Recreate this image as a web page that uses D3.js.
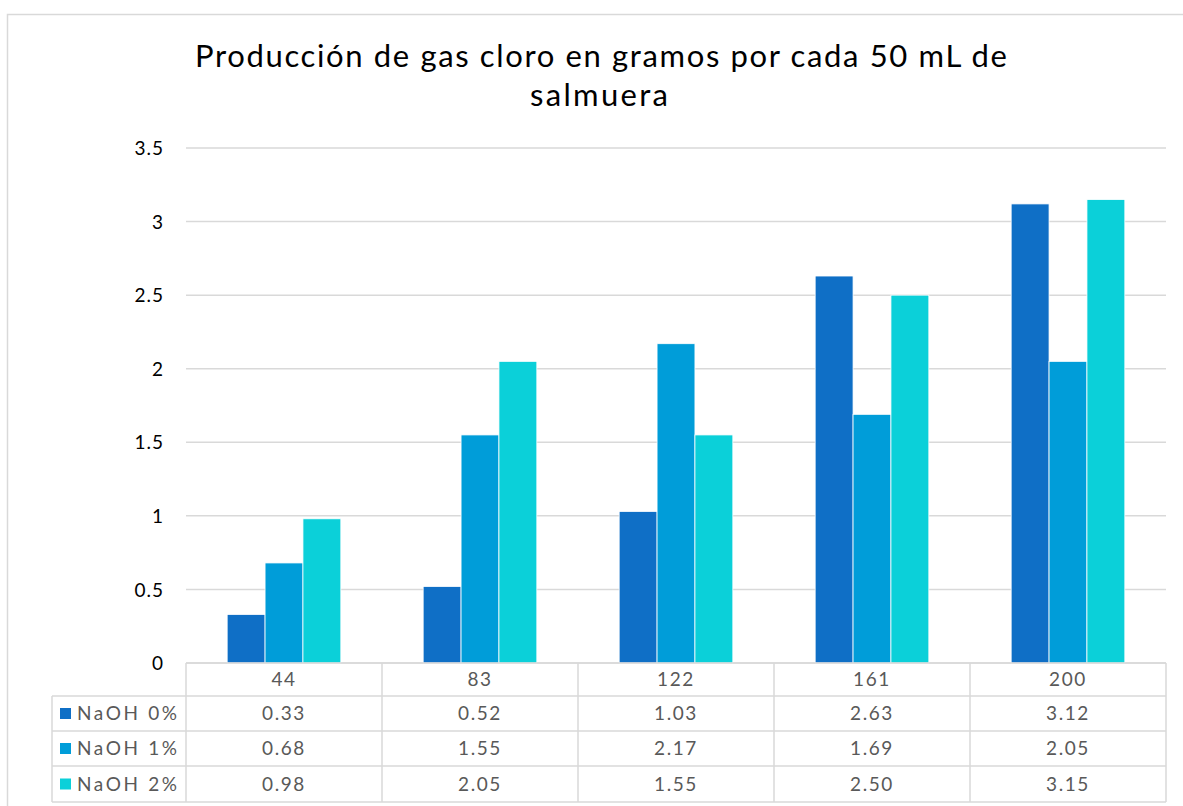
<!DOCTYPE html>
<html><head><meta charset="utf-8">
<script src="https://cdn.jsdelivr.net/npm/d3@7"></script>
<style>body{margin:0;background:#fff}svg{display:block}</style>
</head><body><svg id="c" width="1183" height="806"></svg>
<script>
const categories = ["44","83","122","161","200"];
const seriesNames = ["NaOH 0%","NaOH 1%","NaOH 2%"];
const naoh0 = [0.33,0.52,1.03,2.63,3.12];
const naoh1 = [0.68,1.55,2.17,1.69,2.05];
const naoh2 = [0.98,2.05,1.55,2.50,3.15];
const yTicks = [0,0.5,1,1.5,2,2.5,3,3.5];
const colors = ["#0F6FC6","#009DD9","#0BD0D9"];
const series = [naoh0,naoh1,naoh2];
const titleLines = ["Producción de gas cloro en gramos por cada 50 mL de","salmuera"];
const font = "Lato, 'Noto Sans', sans-serif";

const svg = d3.select("#c");
svg.append("rect").attr("x",7.5).attr("y",14.5).attr("width",1200).attr("height",900)
  .attr("fill","#fff").attr("stroke","#d9d9d9").attr("stroke-width",1.5);

// stretch text to a target width with letter spacing
function fit(sel, target){
  const n = sel.text().length;
  const w = sel.node().getComputedTextLength();
  if (n>1) sel.attr("letter-spacing", ((target-w)/(n-1)).toFixed(2)+"px");
}

const t1 = svg.append("text").attr("x",195).attr("y",67)
  .attr("font-family",font).attr("font-size",31).attr("fill","#000").text(titleLines[0]);
fit(t1, 812);
const t2 = svg.append("text").attr("x",530).attr("y",106)
  .attr("font-family",font).attr("font-size",31).attr("fill","#000").text(titleLines[1]);
fit(t2, 138);

const L=186, R=1166, T=148, B=663;
const x = d3.scaleBand().domain(categories).range([L,R]).paddingInner(0).paddingOuter(0);
const y = d3.scaleLinear().domain([0,3.5]).range([B,T]);

// gridlines
svg.append("g").selectAll("line").data(yTicks).join("line")
  .attr("x1",L).attr("x2",R).attr("y1",d=>y(d)).attr("y2",d=>y(d))
  .attr("stroke","#d9d9d9").attr("stroke-width",1.5);

// y axis labels
const yAxis = d3.axisLeft(y).tickValues(yTicks).tickSize(0).tickPadding(0).tickFormat(d=>String(d));
const ya = svg.append("g").attr("transform",`translate(164,0)`).call(yAxis);
ya.select(".domain").remove();
ya.selectAll("text").attr("font-family",font).attr("font-size",19).attr("fill","#000")
  .attr("dy","0.35em").attr("letter-spacing","1px");

// bars
const groupW = x.bandwidth()*0.58;
const xs = d3.scaleBand().domain(seriesNames).range([0,groupW]).padding(0);
seriesNames.forEach((s,i)=>{
  svg.append("g").selectAll("rect").data(series[i]).join("rect")
    .attr("x",(d,j)=>x(categories[j])+(x.bandwidth()-groupW)/2+xs(s))
    .attr("width",xs.bandwidth())
    .attr("y",d=>y(d)).attr("height",d=>B-y(d))
    .attr("fill",colors[i]).attr("stroke","#fff").attr("stroke-width",0.8);
});

// data table
const rowY = [663,696,731,766,802];
const g = svg.append("g").attr("stroke","#d9d9d9").attr("stroke-width",1.5);
g.append("line").attr("x1",L).attr("x2",R).attr("y1",rowY[0]).attr("y2",rowY[0]);
for(let k=1;k<rowY.length;k++){
  g.append("line").attr("x1",52).attr("x2",R).attr("y1",rowY[k]).attr("y2",rowY[k]);
}
g.append("line").attr("x1",52).attr("x2",52).attr("y1",rowY[1]).attr("y2",rowY[4]);
categories.forEach(c=>{
  g.append("line").attr("x1",x(c)).attr("x2",x(c)).attr("y1",rowY[0]).attr("y2",rowY[4]);
});
g.append("line").attr("x1",R).attr("x2",R).attr("y1",rowY[0]).attr("y2",rowY[4]);

const cellFont = 19, cellLS = "1.6px";
svg.append("g").selectAll("text").data(categories).join("text")
  .attr("x",d=>x(d)+x.bandwidth()/2).attr("y",(rowY[0]+rowY[1])/2).attr("dy","0.36em")
  .attr("text-anchor","middle").attr("font-family",font).attr("font-size",cellFont)
  .attr("letter-spacing",cellLS).attr("fill","#595959").text(d=>d);
seriesNames.forEach((s,i)=>{
  const cy=(rowY[i+1]+rowY[i+2])/2;
  svg.append("rect").attr("x",60).attr("y",cy-5.5).attr("width",11).attr("height",11).attr("fill",colors[i]);
  const lt = svg.append("text").attr("x",77).attr("y",cy).attr("dy","0.36em").attr("font-family",font)
    .attr("font-size",cellFont).attr("fill","#595959").text(s);
  fit(lt, 100);
  svg.append("g").selectAll("text").data(series[i]).join("text")
    .attr("x",(d,j)=>x(categories[j])+x.bandwidth()/2).attr("y",cy).attr("dy","0.36em")
    .attr("text-anchor","middle").attr("font-family",font).attr("font-size",cellFont)
    .attr("letter-spacing",cellLS).attr("fill","#595959")
    .text(d=>d.toFixed(2));
});
</script></body></html>
